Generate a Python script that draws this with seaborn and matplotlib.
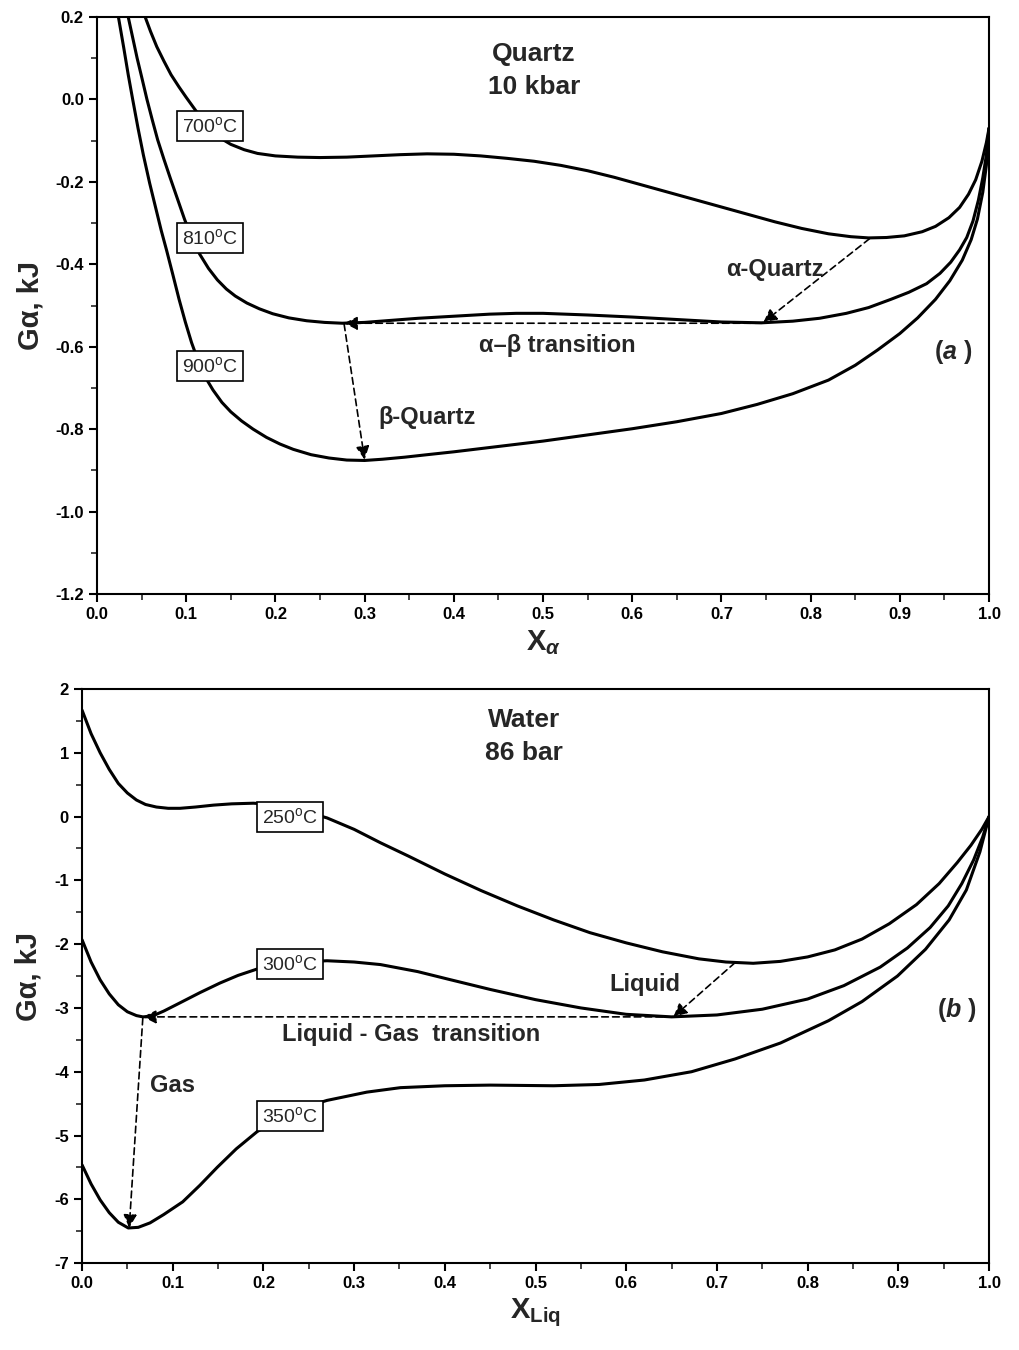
import pandas as pd
import matplotlib
matplotlib.use("Agg")
import matplotlib.pyplot as plt
import seaborn as sns

# ---------------- data ----------------
# (a) Quartz, 10 kbar
q_x700 = [0.054, 0.060, 0.067, 0.075, 0.083, 0.092, 0.100, 0.110, 0.120, 0.130, 0.140, 0.150, 0.165, 0.180,
          0.200, 0.225, 0.250, 0.280, 0.310, 0.340, 0.370, 0.400, 0.430, 0.460, 0.490, 0.520, 0.550, 0.580,
          0.610, 0.640, 0.670, 0.700, 0.730, 0.760, 0.790, 0.820, 0.845, 0.865, 0.885, 0.905, 0.925, 0.940,
          0.955, 0.967, 0.977, 0.985, 0.992, 0.997, 1.000]
q_g700 = [0.200, 0.165, 0.128, 0.093, 0.060, 0.030, 0.005, -0.025, -0.055, -0.078, -0.096, -0.109, -0.122, -0.131,
          -0.137, -0.140, -0.141, -0.140, -0.137, -0.134, -0.132, -0.133, -0.137, -0.143, -0.150, -0.160, -0.173, -0.189,
          -0.207, -0.225, -0.243, -0.261, -0.279, -0.297, -0.313, -0.326, -0.333, -0.336, -0.335, -0.331, -0.321, -0.308,
          -0.287, -0.262, -0.230, -0.195, -0.150, -0.105, -0.070]

q_x810 = [0.035, 0.040, 0.045, 0.050, 0.056, 0.062, 0.068, 0.075, 0.082, 0.090, 0.098, 0.106, 0.115, 0.125,
          0.135, 0.145, 0.155, 0.168, 0.182, 0.197, 0.215, 0.235, 0.255, 0.275, 0.300, 0.330, 0.360, 0.400,
          0.440, 0.470, 0.500, 0.550, 0.600, 0.650, 0.700, 0.745, 0.780, 0.810, 0.840, 0.865, 0.890, 0.910,
          0.930, 0.945, 0.957, 0.967, 0.975, 0.982, 0.988, 0.993, 0.997, 1.000]
q_g810 = [0.200, 0.150, 0.100, 0.055, 0.000, -0.050, -0.098, -0.145, -0.190, -0.240, -0.290, -0.335, -0.375, -0.410,
          -0.438, -0.460, -0.477, -0.494, -0.508, -0.520, -0.530, -0.537, -0.541, -0.543, -0.541, -0.536, -0.531, -0.526,
          -0.521, -0.519, -0.519, -0.523, -0.528, -0.534, -0.540, -0.542, -0.538, -0.531, -0.519, -0.505, -0.485, -0.468,
          -0.447, -0.422, -0.395, -0.365, -0.335, -0.295, -0.245, -0.190, -0.135, -0.070]

q_x900 = [0.024, 0.030, 0.035, 0.040, 0.046, 0.052, 0.059, 0.066, 0.072, 0.078, 0.085, 0.092, 0.099, 0.106,
          0.114, 0.122, 0.130, 0.140, 0.150, 0.162, 0.175, 0.190, 0.205, 0.220, 0.240, 0.260, 0.280, 0.300,
          0.320, 0.345, 0.370, 0.400, 0.450, 0.500, 0.550, 0.600, 0.650, 0.700, 0.740, 0.780, 0.820, 0.850,
          0.875, 0.900, 0.920, 0.940, 0.956, 0.970, 0.980, 0.987, 0.993, 0.997, 1.000]
q_g900 = [0.200, 0.125, 0.060, 0.000, -0.070, -0.135, -0.203, -0.265, -0.318, -0.366, -0.425, -0.485, -0.540, -0.590,
          -0.638, -0.676, -0.705, -0.735, -0.758, -0.780, -0.800, -0.820, -0.836, -0.849, -0.862, -0.870, -0.875, -0.876,
          -0.873, -0.868, -0.862, -0.855, -0.842, -0.829, -0.814, -0.799, -0.782, -0.762, -0.740, -0.714, -0.681, -0.645,
          -0.608, -0.568, -0.530, -0.485, -0.440, -0.390, -0.340, -0.290, -0.225, -0.160, -0.070]

# (b) Water, 86 bar
w_x250 = [0.000, 0.010, 0.020, 0.030, 0.040, 0.050, 0.060, 0.070, 0.082, 0.095, 0.108, 0.125, 0.145, 0.165,
          0.189, 0.210, 0.230, 0.250, 0.270, 0.300, 0.329, 0.360, 0.400, 0.440, 0.480, 0.520, 0.560, 0.600,
          0.640, 0.680, 0.710, 0.740, 0.770, 0.800, 0.830, 0.860, 0.890, 0.920, 0.945, 0.965, 0.980, 0.992, 1.000]
w_g250 = [1.67, 1.30, 1.00, 0.74, 0.52, 0.37, 0.26, 0.19, 0.15, 0.13, 0.13, 0.15, 0.18, 0.20,
          0.21, 0.19, 0.13, 0.06, -0.02, -0.20, -0.41, -0.62, -0.90, -1.16, -1.40, -1.62, -1.82, -1.98,
          -2.12, -2.23, -2.28, -2.30, -2.27, -2.20, -2.09, -1.92, -1.68, -1.38, -1.05, -0.72, -0.45, -0.20, 0.00]

w_x300 = [0.000, 0.010, 0.020, 0.030, 0.040, 0.050, 0.060, 0.067, 0.077, 0.090, 0.108, 0.130, 0.152, 0.172,
          0.193, 0.215, 0.240, 0.270, 0.300, 0.329, 0.370, 0.404, 0.450, 0.500, 0.550, 0.600, 0.650, 0.700,
          0.750, 0.800, 0.840, 0.880, 0.910, 0.935, 0.955, 0.970, 0.983, 0.993, 1.000]
w_g300 = [-1.93, -2.28, -2.56, -2.78, -2.95, -3.06, -3.12, -3.14, -3.13, -3.05, -2.92, -2.76, -2.61, -2.49,
          -2.39, -2.32, -2.28, -2.26, -2.28, -2.32, -2.43, -2.55, -2.71, -2.87, -3.00, -3.10, -3.14, -3.11,
          -3.02, -2.86, -2.65, -2.36, -2.06, -1.74, -1.40, -1.05, -0.68, -0.32, 0.00]

w_x350 = [0.000, 0.010, 0.020, 0.030, 0.040, 0.051, 0.062, 0.075, 0.090, 0.111, 0.130, 0.149, 0.170, 0.193,
          0.215, 0.240, 0.270, 0.314, 0.351, 0.400, 0.450, 0.520, 0.570, 0.620, 0.672, 0.720, 0.770, 0.823,
          0.860, 0.899, 0.930, 0.956, 0.975, 0.990, 1.000]
w_g350 = [-5.46, -5.76, -6.01, -6.21, -6.36, -6.45, -6.44, -6.37, -6.24, -6.04, -5.78, -5.50, -5.21, -4.94,
          -4.75, -4.58, -4.45, -4.32, -4.25, -4.22, -4.21, -4.22, -4.20, -4.13, -4.00, -3.80, -3.55, -3.20,
          -2.90, -2.50, -2.08, -1.62, -1.15, -0.55, 0.00]

quartz_temps = ['700', '810', '900']
water_temps = ['250', '300', '350']

df_q = pd.concat([
    pd.DataFrame({'X': q_x700, 'G': q_g700, 'T': '700'}),
    pd.DataFrame({'X': q_x810, 'G': q_g810, 'T': '810'}),
    pd.DataFrame({'X': q_x900, 'G': q_g900, 'T': '900'}),
])
df_w = pd.concat([
    pd.DataFrame({'X': w_x250, 'G': w_g250, 'T': '250'}),
    pd.DataFrame({'X': w_x300, 'G': w_g300, 'T': '300'}),
    pd.DataFrame({'X': w_x350, 'G': w_g350, 'T': '350'}),
])

# ---------------- style ----------------
sns.set_theme(style="ticks")
plt.rcParams['font.family'] = ['Liberation Sans', 'DejaVu Sans']
plt.rcParams['mathtext.fontset'] = 'custom'
plt.rcParams['mathtext.rm'] = 'Liberation Sans'
plt.rcParams['mathtext.bf'] = 'Liberation Sans:bold'
plt.rcParams['mathtext.it'] = 'Liberation Sans:italic:bold'
plt.rcParams['axes.unicode_minus'] = False
plt.rcParams['axes.linewidth'] = 1.5

fig = plt.figure(figsize=(10.19, 13.5), dpi=100)
ax1 = fig.add_axes([0.0952, 0.560, 0.8754, 0.4274])
ax2 = fig.add_axes([0.0805, 0.0644, 0.8901, 0.4252])

pal = {t: 'black' for t in quartz_temps + water_temps}
sns.lineplot(data=df_q, x='X', y='G', hue='T', palette=pal, linewidth=2.2, sort=False,
             estimator=None, legend=False, ax=ax1)
sns.lineplot(data=df_w, x='X', y='G', hue='T', palette=pal, linewidth=2.2, sort=False,
             estimator=None, legend=False, ax=ax2)

box = dict(boxstyle='square,pad=0.25', fc='white', ec='black', lw=1.2)
lab_fs = 14
arrow = dict(arrowstyle='-|>', linestyle=(0, (4, 2.5)), color='black', lw=1.2,
             mutation_scale=20, shrinkA=0, shrinkB=0)

# ---------- panel (a) ----------
ax1.set_xlim(0, 1)
ax1.set_ylim(-1.2, 0.2)
ax1.set_xticks([i / 10 for i in range(11)])
ax1.set_xticks([i / 20 for i in range(21)], minor=True)
ax1.set_yticks([-1.2, -1.0, -0.8, -0.6, -0.4, -0.2, 0.0, 0.2])
ax1.set_yticks([-1.2 + i * 0.1 for i in range(15)], minor=True)
ax1.set_xticklabels([f'{i / 10:.1f}' for i in range(11)])
ax1.set_yticklabels(['-1.2', '-1.0', '-0.8', '-0.6', '-0.4', '-0.2', '0.0', '0.2'])
ax1.set_xlabel(r'X$_\alpha$', fontsize=21, fontweight='bold', labelpad=4)
ax1.set_ylabel('Gα, kJ', fontsize=21, fontweight='bold', labelpad=8)

ax1.text(0.49, 0.07, 'Quartz\n10 kbar', ha='center', va='center', fontsize=19,
         fontweight='bold', linespacing=1.45)
ax1.text(0.96, -0.613, r'($\mathit{a}$ )', ha='center', va='center', fontsize=18, fontweight='bold')
for t, yy in zip(quartz_temps, [-0.065, -0.336, -0.647]):
    ax1.text(0.127, yy, t + r'$^\mathrm{o}$C', ha='center', va='center', fontsize=lab_fs,
             bbox=box, zorder=5)

ax1.annotate('', xy=(0.277, -0.543), xytext=(0.745, -0.543), arrowprops=arrow)
ax1.annotate('', xy=(0.747, -0.541), xytext=(0.866, -0.338), arrowprops=arrow)
ax1.annotate('', xy=(0.30, -0.874), xytext=(0.277, -0.545), arrowprops=arrow)
ax1.text(0.76, -0.412, 'α-Quartz', ha='center', va='center', fontsize=17, fontweight='bold')
ax1.text(0.516, -0.596, 'α–β transition', ha='center', va='center', fontsize=17, fontweight='bold')
ax1.text(0.37, -0.771, 'β-Quartz', ha='center', va='center', fontsize=17, fontweight='bold')

# ---------- panel (b) ----------
ax2.set_xlim(0, 1)
ax2.set_ylim(-7, 2)
ax2.set_xticks([i / 10 for i in range(11)])
ax2.set_xticks([i / 20 for i in range(21)], minor=True)
ax2.set_xticklabels([f'{i / 10:.1f}' for i in range(11)])
ax2.set_yticks(list(range(-7, 3)))
ax2.set_yticks([-7 + i * 0.5 for i in range(19)], minor=True)
ax2.set_xlabel(r'X$_\mathbf{Liq}$', fontsize=21, fontweight='bold', labelpad=4)
ax2.set_ylabel('Gα, kJ', fontsize=21, fontweight='bold', labelpad=8)

ax2.text(0.487, 1.26, 'Water\n86 bar', ha='center', va='center', fontsize=19,
         fontweight='bold', linespacing=1.45)
ax2.text(0.964, -3.03, r'($\mathit{b}$ )', ha='center', va='center', fontsize=18, fontweight='bold')
for t, yy in zip(water_temps, [-0.01, -2.31, -4.69]):
    ax2.text(0.229, yy, t + r'$^\mathrm{o}$C', ha='center', va='center', fontsize=lab_fs,
             bbox=box, zorder=5)

ax2.annotate('', xy=(0.067, -3.14), xytext=(0.652, -3.14), arrowprops=arrow)
ax2.annotate('', xy=(0.652, -3.14), xytext=(0.72, -2.29), arrowprops=arrow)
ax2.annotate('', xy=(0.052, -6.45), xytext=(0.067, -3.16), arrowprops=arrow)
ax2.text(0.62, -2.64, 'Liquid', ha='center', va='center', fontsize=17, fontweight='bold')
ax2.text(0.363, -3.42, 'Liquid - Gas  transition', ha='center', va='center', fontsize=17, fontweight='bold')
ax2.text(0.10, -4.21, 'Gas', ha='center', va='center', fontsize=17, fontweight='bold')

for ax in (ax1, ax2):
    for s in ax.spines.values():
        s.set_visible(True)
        s.set_color('black')
        s.set_linewidth(1.5)
    ax.tick_params(which='major', direction='out', length=6, width=1.5, labelsize=12,
                   top=False, right=False, colors='black')
    ax.tick_params(which='minor', direction='out', length=4, width=1.2, top=False, right=False)
    for lbl in ax.get_xticklabels() + ax.get_yticklabels():
        lbl.set_fontweight('bold')
    ax.set_facecolor('white')

fig.savefig('out.png', dpi=100, facecolor='white')
